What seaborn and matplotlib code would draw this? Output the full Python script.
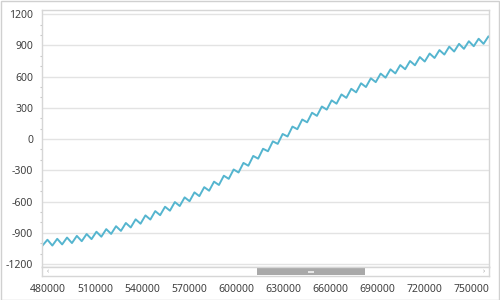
import matplotlib
matplotlib.use("Agg")
import matplotlib.pyplot as plt
from matplotlib.patches import Rectangle
from matplotlib.ticker import MultipleLocator
import seaborn as sns
import pandas as pd

# ---- data (peaks and troughs of the wavy line) ----
start_x, start_y = 476400, -1025
end_x, end_y = 761700, 984

peak_x = [479680, 485935, 492190, 498445, 504700, 510955, 517210, 523465, 529720, 535975,
          542230, 548485, 554740, 560995, 567250, 573505, 579760, 586015, 592270, 598525,
          604780, 611035, 617290, 623545, 629800, 636055, 642310, 648565, 654820, 661075,
          667330, 673585, 679840, 686095, 692350, 698605, 704860, 711115, 717370, 723625,
          729880, 736135, 742390, 748645, 754900, 761155]
peak_y = [-967, -958, -946, -930, -912, -890, -865, -837, -806, -771,
          -733, -692, -650, -605, -560, -512, -462, -409, -352, -292,
          -229, -162, -93, -22, 49, 120, 188, 253, 313, 372,
          429, 483, 536, 584, 629, 670, 711, 750, 788, 822,
          855, 888, 915, 940, 964, 987]
trough_x = [482808, 489063, 495318, 501573, 507828, 514083, 520338, 526593, 532848, 539103,
            545358, 551613, 557868, 564123, 570378, 576633, 582888, 589143, 595398, 601653,
            607908, 614163, 620418, 626673, 632928, 639183, 645438, 651693, 657948, 664203,
            670458, 676713, 682968, 689223, 695478, 701733, 707988, 714243, 720498, 726753,
            733008, 739263, 745518, 751773, 758028]
trough_y = [-1023, -1012, -999, -981, -961, -938, -911, -882, -849, -813,
            -773, -731, -688, -643, -597, -548, -496, -441, -382, -321,
            -256, -188, -117, -46, 25, 95, 161, 223, 283, 340,
            396, 449, 500, 547, 590, 631, 671, 709, 745, 779,
            812, 841, 867, 892, 915]

y_ticks = [-1200, -900, -600, -300, 0, 300, 600, 900, 1200]
x_ticks = [480000, 510000, 540000, 570000, 600000, 630000, 660000, 690000, 720000, 750000]

# ---- build the table ----
df = pd.DataFrame({
    "x": [start_x] + peak_x + trough_x + [end_x],
    "y": [start_y] + peak_y + trough_y + [end_y],
}).sort_values("x")

sns.set_style("white")
plt.rcParams["font.family"] = ["Noto Sans", "DejaVu Sans"]

TXT = "#404040"
GRID = "#e3e3e3"
BORDER = "#d6d6d6"
LINE = "#55b5cf"

W, H = 500, 300
fig = plt.figure(figsize=(5, 3), dpi=100)

def frac(x0, y0, x1, y1):
    return [x0 / W, 1 - y1 / H, (x1 - x0) / W, (y1 - y0) / H]

XL = (476400, 761700)

ax = fig.add_axes(frac(42.3, 10, 489.3, 266.7))
sns.lineplot(data=df, x="x", y="y", sort=False, estimator=None, color=LINE,
             linewidth=1.4, ax=ax)
for ln in ax.lines:
    ln.set_solid_joinstyle("round")
    ln.set_solid_capstyle("round")
ax.set_xlim(*XL)
ax.set_ylim(-1226, 1240)
ax.set_yticks(y_ticks)
ax.set_yticklabels([str(v) for v in y_ticks], fontsize=7.5, color=TXT)
ax.yaxis.set_minor_locator(MultipleLocator(100))
ax.tick_params(axis="y", which="major", length=0, pad=6.5)
ax.tick_params(axis="y", which="minor", length=1.5, color="#c8c8c8", width=0.8, left=True)
ax.set_xticks(x_ticks)
ax.tick_params(axis="x", which="both", bottom=False, labelbottom=False)
ax.grid(axis="y", color=GRID, linewidth=1.0)
ax.grid(axis="x", visible=False)
ax.set_xlabel("")
ax.set_ylabel("")
for s in ax.spines.values():
    s.set_color(BORDER)
    s.set_linewidth(1.0)

# scrollbar strip with x-axis ticks/labels underneath
sb = fig.add_axes(frac(42.3, 267.0, 489.3, 276.3))
sb.set_xlim(*XL)
sb.set_ylim(0, 1)
sb.set_yticks([])
sb.set_xticks(x_ticks)
sb.set_xticklabels([str(v) for v in x_ticks], fontsize=7.5, color=TXT)
sb.xaxis.set_minor_locator(MultipleLocator(10000))
sb.tick_params(axis="x", which="major", length=3, color="#c8c8c8", width=0.8, pad=2.5)
sb.tick_params(axis="x", which="minor", length=2, color="#d8d8d8", width=0.8)
for s in sb.spines.values():
    s.set_color(BORDER)
    s.set_linewidth(1.0)
x0 = (256.7 - 42.3) / 447.0
x1 = (365.0 - 42.3) / 447.0
sb.add_patch(Rectangle((x0, 0.12), x1 - x0, 0.80, transform=sb.transAxes,
                       facecolor="#a9a9a9", edgecolor="none"))
cx = (x0 + x1) / 2
sb.add_patch(Rectangle((cx - 0.006, 0.40), 0.012, 0.2, transform=sb.transAxes,
                       facecolor="#e6e6e6", edgecolor="none"))
sb.text(0.012, 0.5, "‹", transform=sb.transAxes, fontsize=5, color="#a0a0a0",
        ha="center", va="center")
sb.text(0.988, 0.5, "›", transform=sb.transAxes, fontsize=5, color="#a0a0a0",
        ha="center", va="center")

# outer border of the whole picture
fig.patches.append(Rectangle((0.5 / W, 0.5 / H), 1 - 1.5 / W, 1 - 1.5 / H,
                             transform=fig.transFigure, fill=False,
                             edgecolor="#d0d0d0", linewidth=1.0))

fig.savefig("out.png", dpi=100)
